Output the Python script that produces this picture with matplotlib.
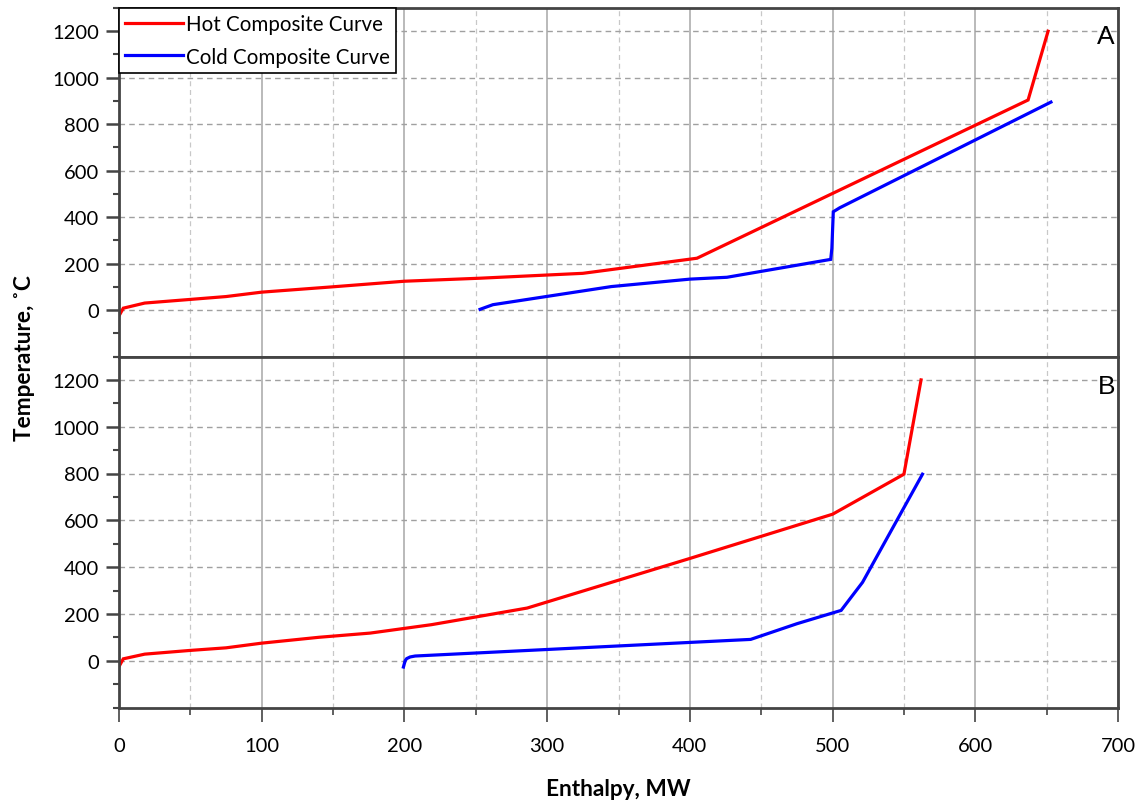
import matplotlib
matplotlib.use("Agg")
import matplotlib.pyplot as plt
from matplotlib.ticker import MultipleLocator

plt.rcParams['font.family'] = ['Lato', 'DejaVu Sans']

# Case A composite curves (enthalpy in MW, temperature in degC)
hot_a_h = [0, 3, 18, 75, 100, 150, 200, 253, 325, 405, 637, 651]
hot_a_t = [-25, 8, 30, 58, 77, 100, 124, 137, 158, 223, 904, 1200]
cold_a_h = [253, 257, 262, 345, 400, 426, 498.7, 499.5, 500.5, 505, 653]
cold_a_t = [3, 12, 23, 101, 133, 141, 218, 265, 423, 440, 895]

# Case B composite curves
hot_b_h = [0, 3, 18, 50, 75, 100, 140, 176, 219, 286, 400, 500, 550, 562]
hot_b_t = [-25, 8, 28, 44, 55, 75, 100, 118, 154, 225, 437, 626, 797, 1200]
cold_b_h = [199.3, 200.5, 201.6, 204, 207.5, 442.6, 475, 506, 521, 563]
cold_b_t = [-27, 0, 9, 16, 20, 91, 158, 215, 335, 797]

panel_labels = ["A", "B"]
x_label = "Enthalpy, MW"
y_label = "Temperature, \u02daC"

spine_c = "#444444"

fig = plt.figure(figsize=(11.43, 8.04), dpi=100)
left, right = 119 / 1143, 1118 / 1143
top_y, mid_y, bot_y = 1 - 9 / 804, 1 - 357.5 / 804, 1 - 708.5 / 804
ax_a = fig.add_axes([left, mid_y, right - left, top_y - mid_y])
ax_b = fig.add_axes([left, bot_y, right - left, mid_y - bot_y], sharex=ax_a)

curves = [(ax_a, hot_a_h, hot_a_t, cold_a_h, cold_a_t),
          (ax_b, hot_b_h, hot_b_t, cold_b_h, cold_b_t)]

for (ax, hh, ht, ch, ct), lab in zip(curves, panel_labels):
    ax.set_xlim(0, 700)
    ax.set_ylim(-200, 1300)
    ax.xaxis.set_major_locator(MultipleLocator(100))
    ax.xaxis.set_minor_locator(MultipleLocator(50))
    ax.yaxis.set_major_locator(MultipleLocator(200))
    ax.yaxis.set_minor_locator(MultipleLocator(100))
    ax.set_yticks(range(0, 1201, 200))
    ax.grid(axis='x', which='major', color='#b4b4b4', linestyle='-', linewidth=1.3)
    ax.grid(axis='x', which='minor', color='#c8c8c8', linestyle=(0, (4, 3)), linewidth=0.9)
    ax.grid(axis='y', which='major', color='#a0a0a0', linestyle=(0, (4, 3)), linewidth=1.0)
    ax.set_axisbelow(True)
    for s in ax.spines.values():
        s.set_color(spine_c)
        s.set_linewidth(2.0)
    ax.tick_params(axis='y', which='major', direction='out', length=9.5, width=1.8,
                   color=spine_c, labelsize=14.5, pad=5)
    ax.tick_params(axis='y', which='minor', direction='out', length=4.5, width=1.5,
                   color=spine_c)
    ax.tick_params(axis='x', which='major', direction='out', length=10, width=1.2,
                   color=spine_c, labelsize=14.5, pad=11)
    ax.tick_params(axis='x', which='minor', direction='out', length=4.8, width=1.2,
                   color=spine_c)
    ax.plot(hh, ht, color='#ff0000', linewidth=2.3, label='Hot Composite Curve',
            solid_joinstyle='miter')
    ax.plot(ch, ct, color='#0000ff', linewidth=2.3, label='Cold Composite Curve',
            solid_joinstyle='miter')
    ax.text(0.997, 0.92 if lab == "A" else 0.915, lab, transform=ax.transAxes,
            ha='right', va='center', fontsize=19, family=['Liberation Sans', 'DejaVu Sans'])

ax_a.tick_params(axis='x', which='both', bottom=False, labelbottom=False)

leg = ax_a.legend(loc='upper left', bbox_to_anchor=(0.0, 1.0), fontsize=14.8,
                  frameon=True, fancybox=False, edgecolor='black', framealpha=1,
                  borderaxespad=0.0, handlelength=2.8, handletextpad=0.15,
                  borderpad=0.3, labelspacing=0.6)
leg.get_frame().set_linewidth(1.2)

fig.text(618 / 1143, 1 - 790 / 804, x_label, ha='center', va='center',
         fontsize=16.3, fontweight='bold')
fig.text(25 / 1143, 1 - 358 / 804, y_label, ha='center', va='center',
         rotation=90, fontsize=16.3, fontweight='bold')

fig.savefig("out.png", dpi=100)
